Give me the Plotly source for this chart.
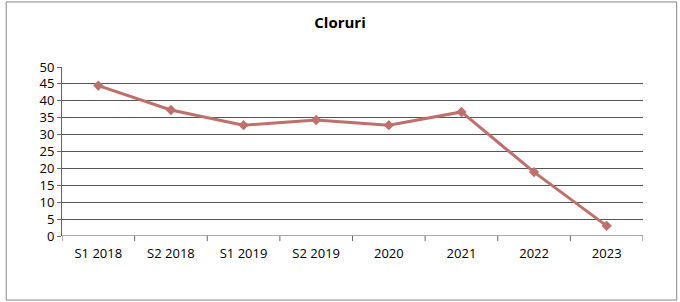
import plotly.graph_objects as go

categories = ["S1 2018", "S2 2018", "S1 2019", "S2 2019", "2020", "2021", "2022", "2023"]
values = [44.5, 37.3, 32.8, 34.3, 32.8, 36.7, 18.9, 3.0]
y_ticks = [0, 5, 10, 15, 20, 25, 30, 35, 40, 45, 50]

fig = go.Figure()
fig.add_trace(go.Scatter(
    x=list(range(len(categories))), y=values, mode="lines+markers",
    line=dict(color="#bf6f6c", width=3),
    marker=dict(symbol="diamond", size=8, color="#bf6f6c"),
    showlegend=False,
))

fig.update_layout(
    width=680, height=302,
    margin=dict(l=62, r=37, t=67, b=66),
    paper_bgcolor="white", plot_bgcolor="white",
    title=dict(text="<b>Cloruri</b>", x=0.5, xanchor="center", y=0.925, yanchor="middle",
               font=dict(family="Open Sans", size=15, color="black")),
    font=dict(family="Open Sans", size=13, color="black"),
    xaxis=dict(
        tickmode="array", tickvals=list(range(len(categories))), ticktext=categories,
        range=[-0.5, len(categories) - 0.5],
        showgrid=False, zeroline=False, showline=False,
        ticks="", tickfont=dict(size=13), ticklabelstandoff=8,
    ),
    yaxis=dict(
        range=[0, 50], tickmode="array", tickvals=y_ticks,
        showgrid=True, gridcolor="#555555", gridwidth=1,
        zeroline=False, showline=True, linecolor="#666666", linewidth=1,
        ticks="outside", ticklen=4, tickcolor="#666666", tickfont=dict(size=13),
    ),
    shapes=[
        dict(type="rect", xref="paper", yref="paper", x0=-0.096, x1=1.058, y0=-0.379, y1=1.385,
             line=dict(color="#888888", width=1)),
        dict(type="line", xref="paper", yref="y", x0=0, x1=1, y0=0, y1=0,
             line=dict(color="#555555", width=1)),
    ] + [
        dict(type="line", xref="x", yref="paper", x0=i - 0.5, x1=i - 0.5, y0=0, y1=-0.03,
             line=dict(color="#666666", width=1))
        for i in range(len(categories) + 1)
    ],
)

fig.write_html("out.html", config={"displayModeBar": False},
               post_script="document.body.style.margin='0';document.body.style.padding='0';")
